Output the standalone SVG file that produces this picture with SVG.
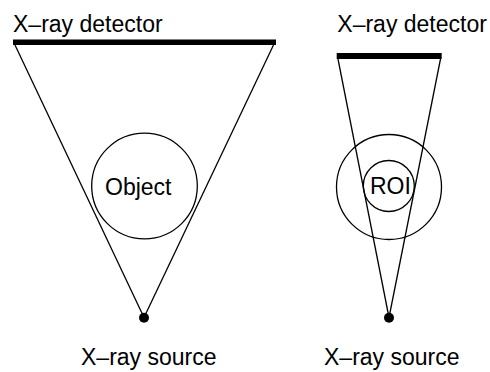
<svg xmlns="http://www.w3.org/2000/svg" width="490" height="372" viewBox="0 0 490 372">
<style>
text{font-family:"Liberation Sans",Arial,Helvetica,sans-serif;font-size:23px;fill:#000}
.ln{stroke:#000;stroke-width:1.3;fill:none}
.det{fill:#000}
.c{stroke:#000;stroke-width:1.3;fill:none}
</style>
<rect width="490" height="372" fill="#fff"/>
<g id="connectors">
<line class="ln" x1="15" y1="45" x2="144" y2="317.5"/>
<line class="ln" x1="273.5" y1="45" x2="144" y2="317.5"/>
<line class="ln" x1="338" y1="59" x2="389" y2="317.5"/>
<line class="ln" x1="440.5" y1="59" x2="389" y2="317.5"/>
</g>
<g id="detector-left">
<rect class="det" x="13" y="39.5" width="263" height="5.5"/>
<text x="13" y="31.5">X–ray detector</text>
</g>
<g id="object">
<circle class="c" cx="144.5" cy="186" r="52.8"/>
<text x="105" y="195">Object</text>
</g>
<g id="source-left">
<circle cx="144" cy="317.7" r="5"/>
<text x="81" y="365">X–ray source</text>
</g>
<g id="detector-right">
<rect class="det" x="336.7" y="53" width="105" height="6"/>
<text x="337.3" y="31.5">X–ray detector</text>
</g>
<g id="large-circle">
<circle class="c" cx="389" cy="187" r="52.5"/>
</g>
<g id="roi">
<circle class="c" cx="388.8" cy="186" r="25.5"/>
<text x="370" y="194.3">ROI</text>
</g>
<g id="source-right">
<circle cx="389" cy="317.7" r="5"/>
<text x="324" y="365">X–ray source</text>
</g>
</svg>
